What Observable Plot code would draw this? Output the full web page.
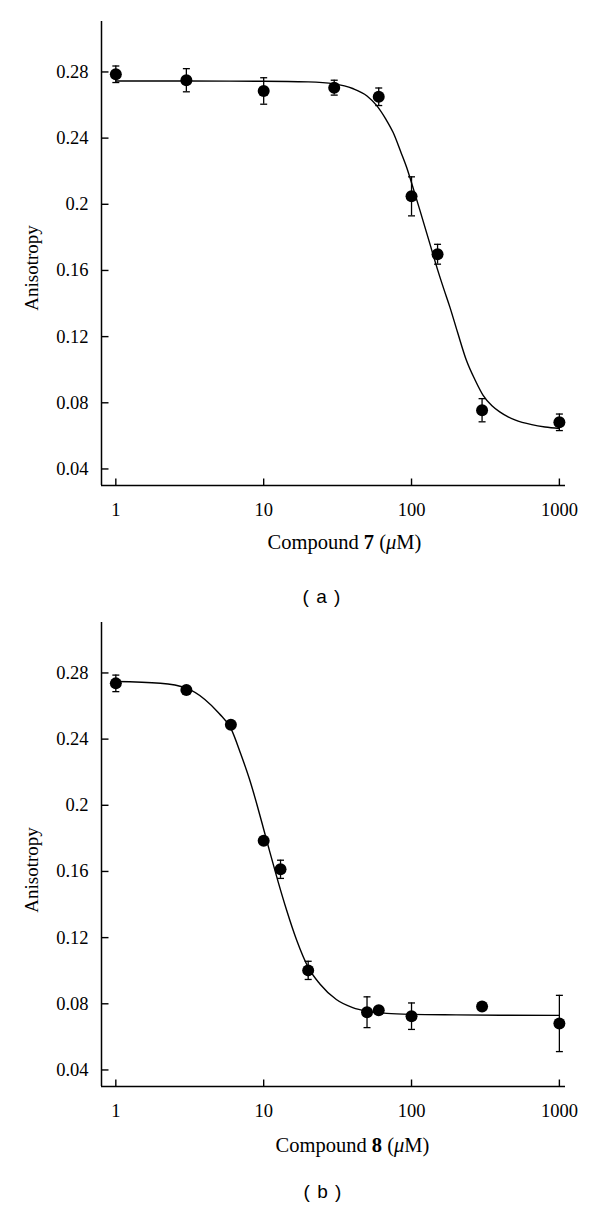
<!DOCTYPE html>
<html><head><meta charset="utf-8">
<script src="https://cdn.jsdelivr.net/npm/d3@7"></script>
<script src="https://cdn.jsdelivr.net/npm/@observablehq/plot@0.6"></script>
<style>
body{margin:0;background:#fff;width:600px;height:1207px;overflow:hidden;font-family:"Liberation Serif",serif;color:#000;}
.panel{position:relative;width:600px;}
.panel svg{display:block;}
.ylab{position:absolute;z-index:5;font-size:19px;transform:translate(-50%,-50%) rotate(-90deg);white-space:nowrap;line-height:1;}
.xlab{position:absolute;z-index:5;font-size:20.5px;transform:translate(-50%,-50%);white-space:nowrap;line-height:1;}
.cap{position:absolute;z-index:5;font-family:"Liberation Sans",sans-serif;font-size:19px;letter-spacing:1px;transform:translate(-50%,-50%);white-space:pre;line-height:1;}
</style></head><body><div id="root"></div>
<script>
// Shared axes
const xDomain = [0.8, 1100];
const yDomain = [0.03, 0.3105];
const xTicks = [1, 10, 100, 1000];
const yTicks = [0.04, 0.08, 0.12, 0.16, 0.2, 0.24, 0.28];

// Panel (a): Compound 7
const conc7 = [1, 3, 10, 30, 60, 100, 150, 300, 1000];
const aniso7 = [0.2786, 0.2750, 0.2685, 0.2705, 0.2650, 0.2048, 0.1698, 0.0755, 0.0682];
const err7 = [0.005, 0.007, 0.008, 0.0045, 0.0053, 0.0118, 0.006, 0.007, 0.005];
const fitX7 = [1, 3, 10, 20, 30, 40, 50, 58, 67, 75, 85, 92.5, 100, 114, 133, 150, 165, 181.5, 205, 235, 270, 305, 350, 395, 450, 500, 650, 800, 1000];
const fitY7 = [0.2745, 0.2745, 0.2744, 0.2740, 0.2728, 0.2700, 0.2655, 0.2598, 0.2515, 0.2435, 0.2312, 0.2225, 0.2130, 0.1963, 0.1762, 0.1605, 0.1490, 0.1380, 0.1225, 0.1057, 0.0935, 0.0845, 0.0782, 0.0745, 0.0715, 0.0697, 0.0668, 0.0654, 0.0645];

// Panel (b): Compound 8
const conc8 = [1, 3, 6, 10, 13, 20, 50, 60, 100, 300, 1000];
const aniso8 = [0.2737, 0.2697, 0.2487, 0.1785, 0.1613, 0.1002, 0.0749, 0.0761, 0.0725, 0.0783, 0.0681];
const err8 = [0.005, 0, 0, 0, 0.0055, 0.0055, 0.0093, 0, 0.008, 0, 0.017];
const fitX8 = [1, 2, 3, 4, 5, 6, 7, 8, 9, 10, 11, 12.5, 14.3, 16.7, 20, 24, 31, 40, 50, 68, 100, 200, 400, 1000];
const fitY8 = [0.2748, 0.2738, 0.2708, 0.2640, 0.2555, 0.2465, 0.2310, 0.2160, 0.2005, 0.1855, 0.1718, 0.1540, 0.1365, 0.1185, 0.1020, 0.0920, 0.0826, 0.0777, 0.0755, 0.0742, 0.0736, 0.0733, 0.0731, 0.0730];

const tickShape = {draw(ctx, l) { ctx.moveTo(0, 0); ctx.lineTo(0, -l); }};
const SERIF = "Liberation Serif";

function makePlot(conc, aniso, err, fitX, fitY) {
  const pts = conc.map((c, i) => ({c, a: aniso[i], e: err[i]}));
  const withErr = pts.filter(d => d.e > 0);
  const caps = withErr.flatMap(d => [{c: d.c, a: d.a + d.e}, {c: d.c, a: d.a - d.e}]);
  const fit = fitX.map((c, i) => ({c, a: fitY[i]}));
  const svg = Plot.plot({
    width: 600, height: 525,
    marginTop: 21, marginBottom: 40, marginLeft: 101, marginRight: 35,
    style: {fontFamily: SERIF, fontSize: "18.5px", color: "#000", background: "transparent"},
    x: {type: "log", domain: xDomain},
    y: {domain: yDomain},
    marks: [
      Plot.axisX(xTicks, {tickSize: 0, tickPadding: 17, tickFormat: d => String(d), label: null, fontFamily: SERIF, fontSize: 18.5, fill: "#000"}),
      Plot.axisY(yTicks, {tickSize: 0, tickPadding: 13, tickFormat: d => String(d), label: null, fontFamily: SERIF, fontSize: 18.5, fill: "#000"}),
      Plot.ruleY([yDomain[0]], {stroke: "#000", strokeWidth: 1.5}),
      Plot.ruleX([xDomain[0]], {stroke: "#000", strokeWidth: 1.5}),
      Plot.vector(xTicks, {x: d => d, frameAnchor: "bottom", length: 7, rotate: 0, anchor: "start", shape: tickShape, stroke: "#000", strokeWidth: 1.4, strokeLinecap: "butt"}),
      Plot.vector(yTicks, {y: d => d, frameAnchor: "left", length: 7, rotate: 90, anchor: "start", shape: tickShape, stroke: "#000", strokeWidth: 1.4, strokeLinecap: "butt"}),
      Plot.line(fit, {x: "c", y: "a", curve: "monotone-x", stroke: "#000", strokeWidth: 1.4}),
      Plot.ruleX(withErr, {x: "c", y1: d => d.a - d.e, y2: d => d.a + d.e, stroke: "#000", strokeWidth: 1.3}),
      Plot.vector(caps, {x: "c", y: "a", length: 7, rotate: 90, anchor: "middle", shape: tickShape, stroke: "#000", strokeWidth: 1.3, strokeLinecap: "butt"}),
      Plot.dot(pts, {x: "c", y: "a", r: 6, fill: "#000", stroke: "none"})
    ]
  });
  svg.querySelectorAll("text").forEach(t => { t.style.fontFamily = "'Liberation Serif', serif"; t.style.fontSize = "18.5px"; });
  return svg;
}

function addPanel(height, plot, xlabHTML, xlabPos, ylabPos, capText, capPos) {
  const p = document.createElement("div");
  p.className = "panel";
  p.style.height = height + "px";
  p.appendChild(plot);
  const yl = document.createElement("div");
  yl.className = "ylab"; yl.textContent = "Anisotropy";
  yl.style.left = ylabPos[0] + "px"; yl.style.top = ylabPos[1] + "px";
  p.appendChild(yl);
  const xl = document.createElement("div");
  xl.className = "xlab"; xl.innerHTML = xlabHTML;
  xl.style.left = xlabPos[0] + "px"; xl.style.top = xlabPos[1] + "px";
  p.appendChild(xl);
  const cp = document.createElement("div");
  cp.className = "cap"; cp.textContent = capText;
  cp.style.left = capPos[0] + "px"; cp.style.top = capPos[1] + "px";
  p.appendChild(cp);
  document.getElementById("root").appendChild(p);
}

addPanel(601, makePlot(conc7, aniso7, err7, fitX7, fitY7),
  "Compound <b>7</b> (<i>μ</i>M)", [344.5, 542], [31, 268], "( a )", [322, 596]);
addPanel(606, makePlot(conc8, aniso8, err8, fitX8, fitY8),
  "Compound <b>8</b> (<i>μ</i>M)", [352.5, 544], [31, 269], "( b )", [323, 590]);
</script>
</body></html>
